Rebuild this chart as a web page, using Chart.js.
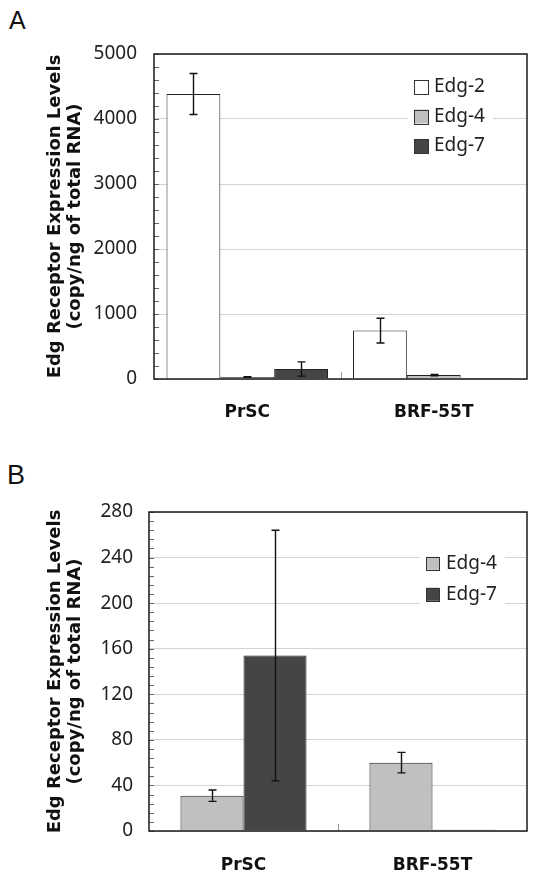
<!DOCTYPE html>
<html><head><meta charset="utf-8">
<script src="https://cdn.jsdelivr.net/npm/chart.js@4.4.1/dist/chart.umd.min.js"></script>
<style>
html,body{margin:0;padding:0;background:#fff;}
body{width:537px;height:881px;position:relative;overflow:hidden;}
.panel{position:absolute;font-family:'Liberation Sans',Arial,sans-serif;color:#111;line-height:1;}
#wa{position:absolute;left:0;top:0;width:537px;height:440px;}
#wb{position:absolute;left:0;top:440px;width:537px;height:441px;}
</style></head><body>
<div class="panel" style="left:9px;top:8px;font-size:25px;">A</div>
<div class="panel" style="left:7px;top:462px;font-size:27px;">B</div>
<div id="wa"><canvas id="ca" width="537" height="440"></canvas></div>
<div id="wb"><canvas id="cb" width="537" height="441"></canvas></div>
<script>
const categories = ['PrSC', 'BRF-55T'];
const edg2Values = [4385, 745];
const edg2Errors = [315, 190];
const edg4Values = [31, 60];
const edg4Errors = [5, 9];
const edg7Values = [154, 1];
const edg7Errors = [110, 0];
const ticksA = [0, 1000, 2000, 3000, 4000, 5000];
const ticksB = [0, 40, 80, 120, 160, 200, 240, 280];
const yTitle = ['Edg Receptor Expression Levels', '(copy/ng of total RNA)'];

const errorBars = {
  id: 'errorBars',
  afterDatasetsDraw(chart) {
    const {ctx, scales: {y}} = chart;
    ctx.save();
    ctx.strokeStyle = '#111';
    ctx.lineWidth = 1.4;
    chart.data.datasets.forEach((ds, i) => {
      const meta = chart.getDatasetMeta(i);
      meta.data.forEach((bar, j) => {
        const e = ds.errors[j];
        if (!e) return;
        const v = ds.data[j];
        const yt = y.getPixelForValue(v + e), yb = y.getPixelForValue(v - e);
        const x = Math.round(bar.x) + 0.5;
        ctx.beginPath();
        ctx.moveTo(x, yt); ctx.lineTo(x, yb);
        ctx.moveTo(x - 4, yt); ctx.lineTo(x + 4, yt);
        ctx.moveTo(x - 4, yb); ctx.lineTo(x + 4, yb);
        ctx.stroke();
      });
    });
    ctx.restore();
  }
};

const frame = {
  id: 'frame',
  afterDraw(chart, args, o) {
    const {ctx, chartArea: a, scales: {x, y}} = chart;
    ctx.save();
    ctx.strokeStyle = '#666';
    ctx.lineWidth = 1;
    const n = Math.round((y.max - y.min) / o.minor);
    for (let k = 0; k <= n; k++) {
      const py = Math.round(y.getPixelForValue(y.min + k * o.minor)) + 0.5;
      ctx.beginPath(); ctx.moveTo(a.left, py); ctx.lineTo(a.left + 5, py); ctx.stroke();
    }
    const mx = Math.round((x.getPixelForValue(0) + x.getPixelForValue(1)) / 2) + 0.5;
    ctx.strokeStyle = '#999';
    ctx.beginPath(); ctx.moveTo(mx, a.bottom); ctx.lineTo(mx, a.bottom - 7); ctx.stroke();
    ctx.strokeStyle = '#1a1a1a';
    ctx.lineWidth = 1.5;
    ctx.strokeRect(a.left, a.top, a.right - a.left, a.bottom - a.top);
    ctx.restore();
  }
};

const boxLegend = {
  id: 'boxLegend',
  afterDraw(chart, args, o) {
    const {ctx, chartArea: a} = chart;
    ctx.save();
    ctx.fillStyle = '#fff';
    ctx.fillRect(a.right + o.bgLeft, a.top + o.bgTop, o.bgRight - o.bgLeft, o.bgBottom - o.bgTop);
    ctx.font = '19px "Noto Sans", sans-serif';
    ctx.textBaseline = 'middle';
    ctx.textAlign = 'left';
    chart.data.datasets.forEach((ds, i) => {
      const cy = a.top + o.firstRow + i * o.rowGap;
      const bx = a.right + o.boxLeft;
      ctx.fillStyle = ds.backgroundColor;
      ctx.fillRect(bx, cy - o.box / 2, o.box, o.box);
      ctx.strokeStyle = '#333';
      ctx.lineWidth = 1;
      ctx.strokeRect(Math.round(bx) + 0.5, Math.round(cy - o.box / 2) + 0.5, o.box, o.box);
      ctx.fillStyle = '#222';
      ctx.fillText(ds.label, a.right + o.textLeft, cy);
    });
    ctx.restore();
  }
};

function makeChart(id, datasets, ticks, cfg) {
  return new Chart(document.getElementById(id), {
    type: 'bar',
    data: {labels: categories, datasets: datasets},
    plugins: [errorBars, frame, boxLegend],
    options: {
      responsive: false,
      animation: false,
      devicePixelRatio: 1,
      layout: {padding: {top: cfg.top, right: 10, left: 0, bottom: 0}},
      datasets: {bar: {categoryPercentage: cfg.catPct, barPercentage: 1}},
      plugins: {
        legend: {display: false},
        tooltip: {enabled: false},
        frame: {minor: cfg.minor},
        boxLegend: cfg.legend
      },
      scales: {
        x: {
          grid: {display: false, drawTicks: false},
          border: {display: false},
          ticks: {padding: cfg.xPad, color: '#111', font: {family: 'DejaVu Sans', weight: 'bold', size: 17}},
          afterFit(s) { s.height = cfg.xHeight; }
        },
        y: {
          min: ticks[0],
          max: ticks[ticks.length - 1],
          grid: {color: '#d4d4d4', drawTicks: false},
          border: {display: false},
          ticks: {
            stepSize: ticks[1] - ticks[0], padding: cfg.yPad, color: '#222',
            font: {family: 'Noto Sans', size: 19},
            callback: (v) => String(v)
          },
          title: {
            display: true, text: yTitle, color: '#111',
            font: {family: 'DejaVu Sans', weight: 'bold', size: 18, lineHeight: 1.11},
            padding: {top: 45, bottom: 0}
          },
          afterFit(s) { s.width = cfg.yWidth; }
        }
      }
    }
  });
}

const bar = (label, data, errors, color) => ({
  label, data, errors, backgroundColor: color, borderColor: '#222', borderWidth: 1
});

makeChart('ca', [
  bar('Edg-2', edg2Values, edg2Errors, '#ffffff'),
  bar('Edg-4', edg4Values, edg4Errors, '#c0c0c0'),
  bar('Edg-7', edg7Values, edg7Errors, '#454545')
], ticksA, {
  top: 54, yWidth: 154, xHeight: 61, xPad: 23, yPad: 17, minor: 200, catPct: 0.866,
  legend: {bgLeft: -119, bgRight: -34, bgTop: 20, bgBottom: 105, boxLeft: -113, textLeft: -93, firstRow: 33, rowGap: 29.5, box: 14}
});

makeChart('cb', [
  bar('Edg-4', edg4Values, edg4Errors, '#c0c0c0'),
  bar('Edg-7', edg7Values, edg7Errors, '#454545')
], ticksB, {
  top: 72, yWidth: 149, xHeight: 50, xPad: 24, yPad: 16, minor: 8, catPct: 0.667,
  legend: {bgLeft: -107, bgRight: -22, bgTop: 37, bgBottom: 97, boxLeft: -101, textLeft: -81, firstRow: 51.3, rowGap: 31, box: 13}
});
</script>
</body></html>
